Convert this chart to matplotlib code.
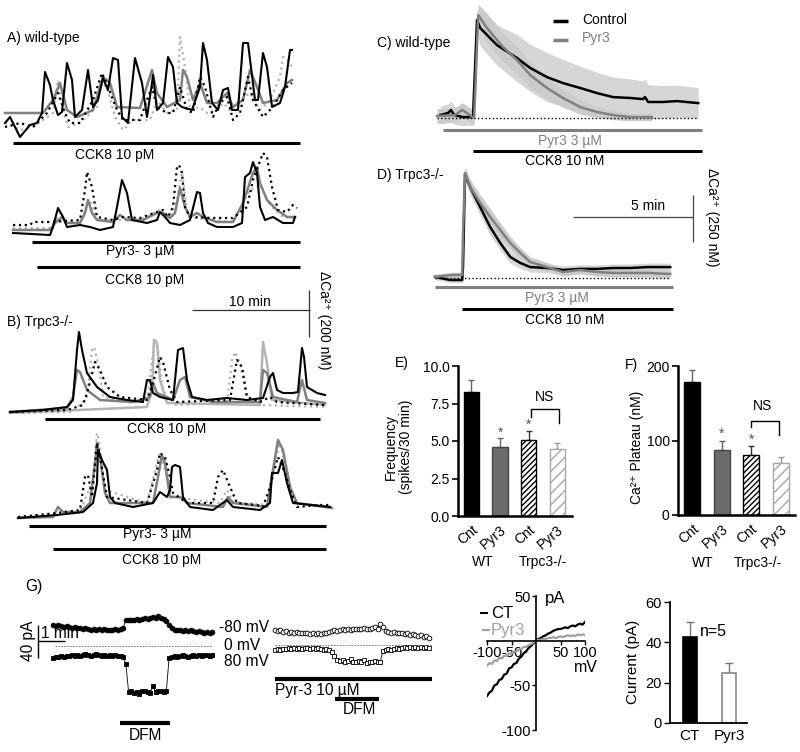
import numpy as np
import matplotlib
matplotlib.use('Agg')
import matplotlib.pyplot as plt

plt.rcParams['font.family'] = ['Liberation Sans', 'DejaVu Sans']
plt.rcParams['hatch.linewidth'] = 1.0

# ---------------- DATA ----------------
# Panel A (wild-type) top: CCK8 10 pM ; time (s), dCa (nM)
a1_black_t = [0,25,75,125,160,185,200,225,240,265,285,310,335,350,385,415,440,465,490,515,540,565,585,615,650,685,710,735,740,760,790,815,840,860,885,935,975,990,1010,1035,1065,1090,1115,1135,1165,1190,1215,1250,1265,1290,1310,1335,1375,1400,1425,1435]
a1_black_v = [28,52,-28,20,28,68,232,180,120,60,72,268,200,52,80,240,92,120,208,160,288,280,52,28,288,188,52,188,220,80,108,292,252,108,92,80,172,348,280,108,80,160,168,80,80,348,348,120,120,308,252,92,108,172,320,320]
a1_gray_t = [0,190,240,275,310,360,440,490,525,560,675,735,760,810,875,890,910,940,975,1010,1060,1110,1140,1190,1225,1260,1290,1360,1410,1435]
a1_gray_v = [68,68,120,188,80,52,80,212,188,92,88,240,148,92,120,240,212,120,188,108,108,148,92,120,240,172,108,120,188,200]
a1_dot_t = [0,75,140,210,265,300,325,375,440,485,515,560,590,675,710,735,760,810,840,875,910,940,975,1000,1040,1075,1110,1140,1175,1215,1240,1290,1340,1390,1435]
a1_dot_v = [12,28,12,68,148,68,28,28,120,228,172,80,40,40,120,172,92,68,68,172,80,68,212,172,52,108,132,40,68,212,120,52,92,160,188]
a1_ldot_t = [0,75,140,240,265,290,315,375,460,475,510,550,590,640,725,760,810,860,875,900,925,975,1010,1060,1090,1125,1175,1225,1275,1325,1375,1390,1410,1435]
a1_ldot_v = [28,0,12,68,200,80,12,28,92,188,172,52,0,40,40,120,68,80,372,252,80,92,68,80,108,80,120,148,80,120,212,292,280,252]

# Panel A bottom: Pyr3 3 uM + CCK8 10 pM
a2_black_t = [40,225,240,265,290,310,375,425,475,540,560,585,610,635,710,760,775,800,825,875,925,960,975,990,1015,1060,1140,1185,1200,1225,1240,1260,1275,1300,1340,1390,1440,1450]
a2_black_v = [8,0,32,108,72,32,40,32,20,32,112,220,168,60,48,60,92,72,48,40,60,172,168,88,48,32,32,48,232,248,292,248,112,60,72,48,48,72]
a2_gray_t = [40,225,250,285,310,375,400,415,435,460,540,575,610,690,760,790,825,850,875,900,925,960,990,1060,1140,1190,1240,1260,1275,1310,1360,1410,1450]
a2_gray_v = [20,20,48,72,48,48,88,140,88,60,52,80,60,60,88,88,68,88,188,112,72,88,72,52,52,128,248,272,208,140,100,72,72]
a2_dot_t = [40,125,140,225,375,400,410,435,460,540,590,675,760,790,815,840,860,870,885,900,925,1040,1140,1210,1240,1290,1310,1335,1365,1410,1440,1460]
a2_dot_v = [40,40,52,52,60,180,252,192,72,60,72,68,92,100,72,112,272,280,248,112,72,68,68,112,220,328,312,192,100,92,120,108]
a2_ldot_t = [40,225,260,290,375,425,460,675,775,825,860,885,910,950,1140,1225,1275,1325,1390,1450]
a2_ldot_v = [28,28,68,48,52,140,60,60,100,68,140,252,100,68,52,180,200,120,72,68]

# Panel B (Trpc3-/-) top: CCK8 10 pM
b1_black_t = [0,165,285,315,335,345,360,385,435,500,585,665,685,700,715,750,815,840,865,885,910,985,1085,1185,1265,1300,1315,1335,1365,1415,1440,1460,1470,1485,1535,1575]
b1_black_v = [0,8,20,48,248,320,248,156,100,60,48,40,128,128,76,60,48,248,256,128,60,48,56,48,56,140,156,88,76,76,80,256,220,100,76,68]
b1_gray_t = [0,285,315,335,350,385,450,615,700,715,735,815,850,875,900,1015,1250,1265,1285,1315,1435,1460,1485,1575]
b1_gray_v = [0,16,60,168,160,88,48,40,60,116,76,48,128,140,60,40,40,168,156,60,40,128,48,36]
b1_dot_t = [0,285,365,390,425,450,485,550,685,715,750,765,800,835,1100,1135,1160,1185,1250,1300,1335,1575]
b1_dot_v = [0,8,28,88,200,168,100,60,48,116,220,200,88,40,48,208,180,60,40,60,40,28]
b1_ldot_t = [0,315,385,410,420,440,465,615,685,710,725,740,765,815,1085,1110,1125,1150,1185,1250,1575]
b1_ldot_v = [-4,0,60,248,260,196,60,36,48,208,296,248,88,28,36,208,240,196,48,28,20]
b1_lsol_t = [0,685,710,720,735,750,785,1250,1265,1285,1310,1575]
b1_lsol_v = [-4,20,88,288,276,128,36,28,280,196,48,28]

# Panel B bottom: Pyr3 3 uM + CCK8 10 pM
b2_black_t = [40,235,365,415,435,440,460,485,500,525,615,715,750,785,800,810,825,850,865,900,1015,1085,1115,1250,1300,1310,1340,1360,1385,1415,1600]
b2_black_v = [-12,0,12,48,128,260,220,180,72,48,32,48,92,72,100,192,200,192,72,32,20,60,32,20,48,168,168,220,128,48,32]
b2_gray_t = [40,215,240,265,350,400,425,435,450,475,500,715,740,760,775,800,850,885,1065,1090,1115,1285,1315,1340,1365,1400,1435,1610]
b2_gray_v = [-12,-8,32,12,12,48,208,288,232,88,48,48,152,240,208,72,72,48,32,72,48,32,180,300,260,112,48,28]
b2_dot_t = [40,235,350,375,390,410,435,450,485,685,735,750,775,800,815,885,1015,1040,1065,1100,1135,1235,1265,1300,1340,1375,1400,1435,1550,1610]
b2_dot_v = [-8,8,20,152,160,72,288,232,72,48,180,248,232,152,88,48,48,152,180,112,48,40,32,112,232,168,100,32,40,40]
b2_ldot_t = [40,350,415,435,450,475,685,735,750,775,810,1050,1085,1115,1285,1325,1350,1385,1425,1610]
b2_ldot_v = [-12,12,140,328,272,100,48,208,248,180,72,48,100,52,40,208,288,168,48,32]

# Panel C (wild-type, CCK8 10 nM) mean +/- SEM ; time (s), dCa (nM)
c_ctrl_t = [8,28,35,43,65,90,100,108,150,200,233,275,315,358,400,440,483,515,520,528,565,600,653]
c_ctrl_v = [16,28,44,16,5,5,539,495,401,330,275,225,192,165,137,115,110,104,115,88,88,93,82]
c_ctrl_e = [50,50,50,50,50,50,60,100,110,130,130,135,130,120,115,110,105,100,100,95,90,88,85]
c_pyr_t = [0,45,63,75,88,93,103,125,165,200,233,275,315,358,400,440,483,537]
c_pyr_v = [11,16,44,27,5,5,566,495,390,319,236,165,110,60,33,16,5,5]
c_pyr_e = [40,40,40,40,40,40,60,80,80,75,70,60,50,40,30,25,20,20]

# Panel D (Trpc3-/-)
d_ctrl_t = [0,38,68,70,75,88,113,138,163,188,213,238,280,320,363,405,445,488,530,588]
d_ctrl_v = [6,-11,-11,60,567,500,390,280,193,116,83,60,55,44,50,50,55,55,60,60]
d_ctrl_e = [15,15,15,20,35,40,45,45,40,35,30,28,25,22,22,22,22,22,22,22]
d_pyr_t = [0,45,68,70,75,88,113,138,163,188,213,238,280,320,363,405,445,488,530,588]
d_pyr_v = [6,17,17,248,578,500,413,336,264,193,138,88,60,33,44,33,28,28,28,22]
d_pyr_e = [15,15,15,25,35,40,45,45,40,35,30,28,25,22,22,22,22,22,22,22]

# Panels E / F bar data
bar_groups = ['Cnt', 'Pyr3', 'Cnt', 'Pyr3']
freq_mean = [8.3, 4.6, 5.1, 4.5]
freq_sem = [0.8, 0.6, 0.6, 0.4]
plateau_mean = [178, 87, 81, 70]
plateau_sem = [17, 13, 11, 8]

# Panel G: currents (pA) sampled every 6 s
g_m80_ctl = [25,24,25,24,23,24,23,22,23,22,22,21,22,21,20,21,20,21,20,21,20,19,20,21,20,21,22,
             32,31,32,32,33,32,33,34,33,34,35,34,36,34,33,30,
             26,22,19,20,19,18,19,18,19,18,17,18,17,16,17,16,17]
g_p80_ctl = [-14,-13,-13,-12,-13,-12,-12,-11,-12,-11,-12,-11,-10,-11,-12,-11,-10,-11,-12,-11,-12,-11,-12,-11,-12,-12,-13,
             -22,-56,-55,-57,-56,-58,-55,-54,-56,-57,-48,-56,-55,-54,-56,-54,
             -14,-13,-12,-13,-12,-11,-12,-13,-12,-11,-12,-11,-12,-11,-11,-12,-11]
g_m80_pyr = [18,17,18,16,17,15,16,15,16,15,14,
             15,14,13,14,13,14,13,14,15,16,
             17,18,17,18,19,18,19,18,19,20,19,20,21,20,19,
             21,22,20,26,22,
             17,16,15,16,14,15,14,13,14,12,13,12,11,12,10,11,9]
g_p80_pyr = [-6,-5,-6,-5,-5,-4,-5,-4,-5,-4,-5,-4,-4,-5,-4,-5,-4,-5,-6,-5,-6,-8,
             -13,-18,-19,-18,-20,-19,-17,-20,-21,-19,-20,-18,-22,-21,-20,-19,-21,-20,
             -7,-6,-5,-6,-5,-4,-5,-4,-3,-4,-3,-4,-3,-4,-3,-4,-3,-4]
g_dt = 6

# I-V relation
iv_mv = [-100,-95,-90,-85,-80,-75,-70,-65,-60,-55,-50,-45,-40,-35,-30,-25,-20,-15,-10,-5,0,
         5,10,15,20,25,30,35,40,45,50,55,60,65,70,75,80,85,90,95,100]
iv_ct = [-62,-58,-56,-50,-49,-44,-43,-38,-37,-31,-30,-26,-25,-20,-18,-14,-12,-8,-6,-3,0,
         2,3,5,6,8,9,11,12,13,13,14,15,14,16,17,16,18,19,18,21]
iv_pyr = [-28,-25,-26,-22,-23,-19,-20,-17,-17,-14,-15,-12,-12,-10,-9,-7,-7,-5,-4,-2,0,
          1,1,2,2,3,3,4,3,4,5,4,5,6,5,6,5,7,6,7,6]

cur_labels = ['CT', 'Pyr3']
cur_mean = [42.5, 25]
cur_sem = [7.5, 5]

# ---------------- FIGURE ----------------
W, H = 800, 752
fig = plt.figure(figsize=(8, 7.52), dpi=100)
BLACK = '#000000'; GRAY = '#808080'; LGRAY = '#b4b4b4'; DGRAY = '#6b6b6b'
FS = 10
GFS = 11.2

def box_ax(x0, y0, x1, y1, zorder=1):
    ax = fig.add_axes([x0 / W, 1 - y1 / H, (x1 - x0) / W, (y1 - y0) / H])
    ax.set_zorder(zorder)
    ax.patch.set_alpha(0)
    return ax

def trace_ax(x0, y0, x1, y1, xp0, t_per_px, yp0, v_per_px):
    ax = box_ax(x0, y0, x1, y1)
    ax.set_xlim((x0 - xp0) * t_per_px, (x1 - xp0) * t_per_px)
    ax.set_ylim((yp0 - y1) * v_per_px, (yp0 - y0) * v_per_px)
    ax.axis('off')
    return ax

sty = {
    'ldot': dict(color=LGRAY, lw=1.6, ls=':'),
    'lsol': dict(color=LGRAY, lw=1.8, ls='-'),
    'gray': dict(color=GRAY, lw=1.8, ls='-'),
    'dot': dict(color=BLACK, lw=1.6, ls=':'),
    'black': dict(color=BLACK, lw=1.5, ls='-'),
}

axAt = trace_ax(0, 20, 320, 150, 5, 5, 130, 4)
for t, v, s in [(a1_ldot_t, a1_ldot_v, 'ldot'), (a1_gray_t, a1_gray_v, 'gray'),
                (a1_dot_t, a1_dot_v, 'dot'), (a1_black_t, a1_black_v, 'black')]:
    axAt.plot(t, v, **sty[s])
axAb = trace_ax(0, 140, 320, 245, 5, 5, 235, 4)
for t, v, s in [(a2_ldot_t, a2_ldot_v, 'ldot'), (a2_gray_t, a2_gray_v, 'gray'),
                (a2_dot_t, a2_dot_v, 'dot'), (a2_black_t, a2_black_v, 'black')]:
    axAb.plot(t, v, **sty[s])
axBt = trace_ax(0, 320, 340, 420, 10, 5, 412, 4)
for t, v, s in [(b1_ldot_t, b1_ldot_v, 'ldot'), (b1_lsol_t, b1_lsol_v, 'lsol'),
                (b1_gray_t, b1_gray_v, 'gray'), (b1_dot_t, b1_dot_v, 'dot'),
                (b1_black_t, b1_black_v, 'black')]:
    axBt.plot(t, v, **sty[s])
axBb = trace_ax(0, 420, 340, 525, 10, 5, 515, 4)
for t, v, s in [(b2_ldot_t, b2_ldot_v, 'ldot'), (b2_gray_t, b2_gray_v, 'gray'),
                (b2_dot_t, b2_dot_v, 'dot'), (b2_black_t, b2_black_v, 'black')]:
    axBb.plot(t, v, **sty[s])

# C and D mean traces
def mean_trace(ax, ct, cv, ce, pt, pv, pe):
    ct, cv, ce = map(np.asarray, (ct, cv, ce))
    pt, pv, pe = map(np.asarray, (pt, pv, pe))
    ax.fill_between(ct, cv - ce, cv + ce, color='#d6d6d6', lw=0)
    ax.fill_between(pt, pv - pe, pv + pe, color='#cbcbcb', lw=0)
    ax.plot([min(ct[0], pt[0]), max(ct[-1], pt[-1])], [0, 0], color='k', lw=1.0, ls=':')
    ax.plot(ct, cv, color='k', lw=1.8)
    ax.plot(pt, pv, color=GRAY, lw=1.8)

axC = trace_ax(430, 5, 705, 125, 437, 2.5, 118, 5.5)
mean_trace(axC, c_ctrl_t, c_ctrl_v, c_ctrl_e, c_pyr_t, c_pyr_v, c_pyr_e)
axD = trace_ax(428, 160, 680, 285, 435, 2.5, 278, 5.5)
mean_trace(axD, d_ctrl_t, d_ctrl_v, d_ctrl_e, d_pyr_t, d_pyr_v, d_pyr_e)

# E / F bars
bar_styles = [dict(fc='k', ec='k', hatch=None, err='#666'),
              dict(fc=DGRAY, ec='#444', hatch=None, err='#666'),
              dict(fc='white', ec='k', hatch='//////', err='#333'),
              dict(fc='white', ec='#a8a8a8', hatch='///', err='#999')]

def bar_panel(ax, means, sems, ylim, yticks, yticklabels, starpad, stars):
    x = np.arange(len(means))
    for i in x:
        st = bar_styles[i]
        ax.bar(i, means[i], width=0.54, color=st['fc'], edgecolor=st['ec'],
               hatch=st['hatch'], lw=1.0, zorder=2)
        ax.errorbar(i, means[i], yerr=[[0], [sems[i]]], fmt='none', ecolor=st['err'],
                    elinewidth=1.0, capsize=2, capthick=1.0, zorder=1)
        if stars[i]:
            ax.text(i, means[i] + sems[i] + starpad, '*', ha='center', va='center',
                    fontsize=10, color='#555')
    ax.set_ylim(*ylim)
    ax.set_yticks(yticks)
    ax.set_yticklabels(yticklabels, fontsize=FS)
    ax.set_xticks(x)
    ax.set_xticklabels(bar_groups, rotation=40, ha='right', va='top',
                       rotation_mode='anchor', fontsize=FS)
    for s in ['top', 'right']:
        ax.spines[s].set_visible(False)
    for s in ['left', 'bottom']:
        ax.spines[s].set_linewidth(1.8)
    ax.tick_params(axis='y', length=4, width=1.2, pad=2)
    ax.tick_params(axis='x', length=0, pad=5)

axE = box_ax(458, 366, 572, 516)
axE.set_xlim(-0.47, 3.51)
bar_panel(axE, freq_mean, freq_sem, (0, 10), [0, 2.5, 5, 7.5, 10],
          ['0.0', '2.5', '5.0', '7.5', '10.0'], 0.35, [0, 1, 1, 0])
axF = box_ax(678, 366, 795, 515)
axF.set_xlim(-0.49, 3.49)
bar_panel(axF, plateau_mean, plateau_sem, (0, 200), [0, 100, 200],
          ['0', '100', '200'], 9, [0, 1, 1, 0])

# G current traces
def gtrace(ax, vals, marker, filled):
    t = np.arange(len(vals)) * g_dt
    ax.plot(t, vals, '-', color='k', lw=0.6, marker=marker, ms=3.4,
            mfc='k' if filled else 'white', mec='k', mew=0.6)

axGL = trace_ax(45, 595, 222, 728, 53, 60 / 27, 646, 40 / 33)
gtrace(axGL, g_m80_ctl, 'o', True)
gtrace(axGL, g_p80_ctl, 's', True)
axGR = trace_ax(268, 600, 440, 690, 275, 60 / 27, 645, 40 / 33)
gtrace(axGR, g_m80_pyr, 'o', False)
gtrace(axGR, g_p80_pyr, 's', False)

# I-V
axV = box_ax(487, 596, 585, 730)
axV.set_xlim(-100, 100)
axV.set_ylim(-100, 50)
axV.plot(iv_mv, iv_ct, color='k', lw=1.6)
axV.plot(iv_mv, iv_pyr, color='#a0a0a0', lw=1.6)
axV.spines['left'].set_position(('data', 0))
axV.spines['bottom'].set_position(('data', 0))
for s in ['top', 'right']:
    axV.spines[s].set_visible(False)
for s in ['left', 'bottom']:
    axV.spines[s].set_linewidth(1.2)
axV.set_yticks([-100, -50, 50])
axV.set_yticklabels(['-100', '-50', '50'], fontsize=10.5)
axV.set_xticks([-100, -50, 50, 100])
axV.set_xticklabels(['-100', '-50', '50', '100'], fontsize=10.5)
axV.tick_params(length=3, width=1.0, pad=1)

# Current bars
axI = box_ax(670, 602, 747, 723)
axI.set_xlim(-0.51, 1.46)
axI.set_ylim(0, 60)
cur_fc = ['k', 'white']
cur_ec = ['k', '#888888']
for i in range(2):
    axI.bar(i, cur_mean[i], width=0.36, color=cur_fc[i], edgecolor=cur_ec[i], lw=1.2, zorder=2)
    axI.errorbar(i, cur_mean[i], yerr=[[0], [cur_sem[i]]], fmt='none', ecolor='#777',
                 elinewidth=1.0, capsize=3, capthick=1.0, zorder=1)
axI.set_yticks([0, 20, 40, 60])
axI.set_yticklabels(['0', '20', '40', '60'], fontsize=10.5)
axI.set_xticks([0, 1])
axI.set_xticklabels(cur_labels, fontsize=11)
for s in ['top', 'right']:
    axI.spines[s].set_visible(False)
for s in ['left', 'bottom']:
    axI.spines[s].set_linewidth(1.3)
axI.tick_params(axis='y', length=4, width=1.0, pad=2)
axI.tick_params(axis='x', length=0, pad=4)

# ---------------- ANNOTATIONS (overlay) ----------------
ov = box_ax(0, 0, W, H, zorder=10)
ov.set_xlim(0, W)
ov.set_ylim(H, 0)
ov.axis('off')

def hl(x0, x1, y, lw=2.2, color='k', **kw):
    ov.plot([x0, x1], [y, y], color=color, lw=lw, solid_capstyle='butt', **kw)

def vl(x, y0, y1, lw=0.9, color='k'):
    ov.plot([x, x], [y0, y1], color=color, lw=lw, solid_capstyle='butt')

def tx(x, y, s, size=FS, ha='center', va='center', **kw):
    ov.text(x, y, s, fontsize=size, ha=ha, va=va, **kw)

# A / B
tx(7, 38, 'A) wild-type', ha='left')
hl(13, 300, 143); tx(115, 155, 'CCK8 10 pM')
hl(32, 300, 242); tx(140, 251, 'Pyr3- 3 µM')
hl(37, 300, 267); tx(145, 280, 'CCK8 10 pM')
tx(250, 302, '10 min')
hl(192, 310, 310, lw=0.9, color='#333')
vl(309, 290, 337, color='#333')
tx(324, 320, 'ΔCa²⁺ (200 nM)', rotation=270)
tx(7, 322, 'B) Trpc3-/-', ha='left')
hl(45, 320, 419); tx(167, 429, 'CCK8 10 pM')
hl(29, 326, 526); tx(157, 534, 'Pyr3- 3 µM')
hl(53, 326, 549); tx(162, 560, 'CCK8 10 pM')

# C / D
tx(377, 43, 'C) wild-type', ha='left')
hl(553, 568, 21, lw=2.5); tx(582, 20, 'Control', ha='left')
hl(553, 568, 40, lw=2.5, color=GRAY); tx(582, 38, 'Pyr3', ha='left', color=GRAY)
hl(443, 702, 130, color=GRAY); tx(570, 141, 'Pyr3 3 µM', color=GRAY)
hl(473, 702, 151); tx(565, 161, 'CCK8 10 nM')
tx(377, 175, 'D) Trpc3-/-', ha='left')
tx(648, 206, '5 min')
hl(573, 693, 217, lw=0.9, color='#444')
vl(693, 195, 242, color='#444')
tx(712, 217, 'ΔCa²⁺ (250 nM)', rotation=270)
hl(435, 673, 287, color=GRAY); tx(557, 298, 'Pyr3 3 µM', color=GRAY)
hl(462, 673, 309); tx(565, 320, 'CCK8 10 nM')

# E / F
tx(402, 363, 'E)')
tx(631, 365, 'F)')
tx(398, 447, 'Frequency\n(spikes/30 min)', rotation=90, linespacing=1.1)
tx(637, 447, 'Ca²⁺ Plateau (nM)', rotation=90)
ov.plot([531, 531, 559, 559], [417, 409, 409, 423], color='k', lw=1.0)
tx(545, 397, 'NS')
ov.plot([751, 751, 779, 779], [427, 421, 421, 435], color='k', lw=1.0)
tx(762, 406, 'NS')
tx(483, 562, 'WT'); tx(543, 562, 'Trpc3-/-')
tx(703, 563, 'WT'); tx(758, 563, 'Trpc3-/-')

# G
tx(25, 587, 'G)', size=GFS, ha='left')
vl(38, 625, 658, lw=1.0)
hl(38, 65, 641, lw=1.0)
tx(41, 633, '1 min', ha='left', size=GFS)
tx(28, 641, '40 pA', rotation=90, size=GFS)
tx(219, 627, '-80 mV', ha='left', size=GFS)
tx(224, 646, '0 mV', ha='left', size=GFS)
tx(224, 662, '80 mV', ha='left', size=GFS)
ov.plot([55, 212], [646, 646], color='#666', lw=0.6, ls=(0, (2, 1.5)))
ov.plot([275, 432], [645, 645], color='#666', lw=0.6, ls=(0, (2, 1.5)))
hl(120, 170, 723, lw=3); tx(145, 735, 'DFM', size=GFS)
hl(275, 432, 679, lw=3); tx(275, 691, 'Pyr-3 10 µM', ha='left', size=GFS)
hl(335, 379, 699, lw=3); tx(359, 710, 'DFM', size=GFS)

hl(480, 488, 613, lw=1.5); tx(491, 613, 'CT', ha='left', size=12)
hl(482, 490, 630, lw=1.5, color='#a0a0a0'); tx(491, 630, 'Pyr3', ha='left', size=12, color='#a0a0a0')
tx(545, 598, 'pA', ha='left', size=12)
tx(586, 667, 'mV', size=11.5)
tx(700, 631, 'n=5', ha='left', size=11.5)
tx(633, 662, 'Current (pA)', rotation=90, size=11)

fig.savefig('out.png', dpi=100)
